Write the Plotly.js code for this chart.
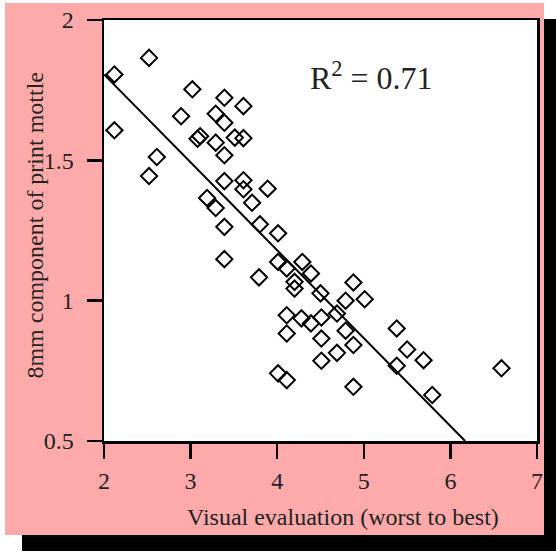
<!DOCTYPE html>
<html>
<head>
<meta charset="utf-8">
<script src="https://cdn.plot.ly/plotly-3.0.1.min.js"></script>
<style>
  html, body { margin: 0; padding: 0; background: #ffffff; width: 556px; height: 552px; overflow: hidden; }
  #frame { position: absolute; left: 5px; top: 3px; width: 539px; height: 532px; background: #ffaaaa; box-shadow: 17px 16px 0 #000; }
  #chart { position: absolute; left: 0; top: 0; width: 556px; height: 552px; }
</style>
</head>
<body>
<div id="frame"></div>
<div id="chart"></div>
<script>
// Visual evaluation (worst to best)
const visualEval = [
  2.52, 2.12, 2.12, 3.02, 3.39, 3.61, 2.89, 3.29, 3.39, 3.11,
  3.08, 3.29, 3.51, 3.61, 3.39, 2.61, 2.52, 3.39, 3.61, 3.61,
  3.89, 3.19, 3.29, 3.71, 3.39, 3.80, 4.01, 3.39, 3.79, 4.01,
  4.11, 4.29, 4.39, 4.20, 4.20, 4.11, 4.28, 4.39, 4.11, 4.01,
  4.11, 4.50, 4.88, 4.79, 5.01, 4.69, 4.51, 4.79, 4.51, 4.88,
  4.69, 4.51, 4.88, 5.38, 5.50, 5.69, 5.38, 5.79, 6.59
];
// 8mm component of print mottle
const mottle8mm = [
  1.865, 1.806, 1.607, 1.753, 1.723, 1.693, 1.657, 1.666, 1.634, 1.586,
  1.577, 1.563, 1.581, 1.579, 1.518, 1.512, 1.444, 1.426, 1.429, 1.397,
  1.399, 1.366, 1.330, 1.349, 1.263, 1.272, 1.240, 1.148, 1.083, 1.138,
  1.115, 1.138, 1.097, 1.067, 1.043, 0.948, 0.937, 0.919, 0.883, 0.741,
  0.717, 1.026, 1.065, 1.000, 1.005, 0.954, 0.940, 0.893, 0.865, 0.842,
  0.814, 0.786, 0.693, 0.901, 0.826, 0.788, 0.768, 0.664, 0.759
];
// Regression line end points
const fitX = [2.0, 6.17];
const fitY = [1.806, 0.5];
const r2Label = "R<sup>2</sup> = 0.71";
const xTitle = "Visual evaluation (worst to best)";
const yTitle = "8mm component of print mottle";

const FONT = "Liberation Serif, Times New Roman, serif";
const TXT = "#222222";

const traces = [
  {
    x: visualEval, y: mottle8mm, type: "scatter", mode: "markers",
    marker: { symbol: "diamond-open", size: 12.5, color: "#000", line: { width: 2, color: "#000" } },
    showlegend: false, hoverinfo: "x+y"
  },
  {
    x: fitX, y: fitY, type: "scatter", mode: "lines",
    line: { color: "#000", width: 2 }, showlegend: false
  }
];

const axisCommon = {
  showline: true, linecolor: "#000", linewidth: 2.5, mirror: true,
  ticks: "outside", ticklen: 15, tickwidth: 2.5, tickcolor: "#000",
  showgrid: false, zeroline: false,
  tickfont: { family: FONT, size: 24, color: TXT }
};

const layout = {
  width: 556, height: 552,
  margin: { l: 104, r: 19, t: 19.5, b: 111, pad: 0 },
  paper_bgcolor: "rgba(0,0,0,0)",
  plot_bgcolor: "#ffffff",
  xaxis: Object.assign({}, axisCommon, { range: [2, 7], dtick: 1, tick0: 2, ticklabelstandoff: 2 }),
  yaxis: Object.assign({}, axisCommon, { range: [0.5, 2], dtick: 0.5, tick0: 0.5, ticklabelstandoff: 8 }),
  annotations: [
    { text: r2Label, xref: "paper", yref: "paper", x: 0.471, y: 0.868, xanchor: "left", yanchor: "middle",
      showarrow: false, font: { family: FONT, size: 32, color: TXT } },
    { text: xTitle, xref: "paper", yref: "paper", x: 0.552, y: -0.18, xanchor: "center", yanchor: "middle",
      showarrow: false, font: { family: FONT, size: 24, color: TXT } },
    { text: yTitle, xref: "paper", yref: "paper", x: -0.159, y: 0.512, xanchor: "center", yanchor: "middle",
      textangle: -90, showarrow: false, font: { family: FONT, size: 24, color: TXT } }
  ]
};

Plotly.newPlot("chart", traces, layout, { staticPlot: true, displayModeBar: false });
</script>
</body>
</html>
